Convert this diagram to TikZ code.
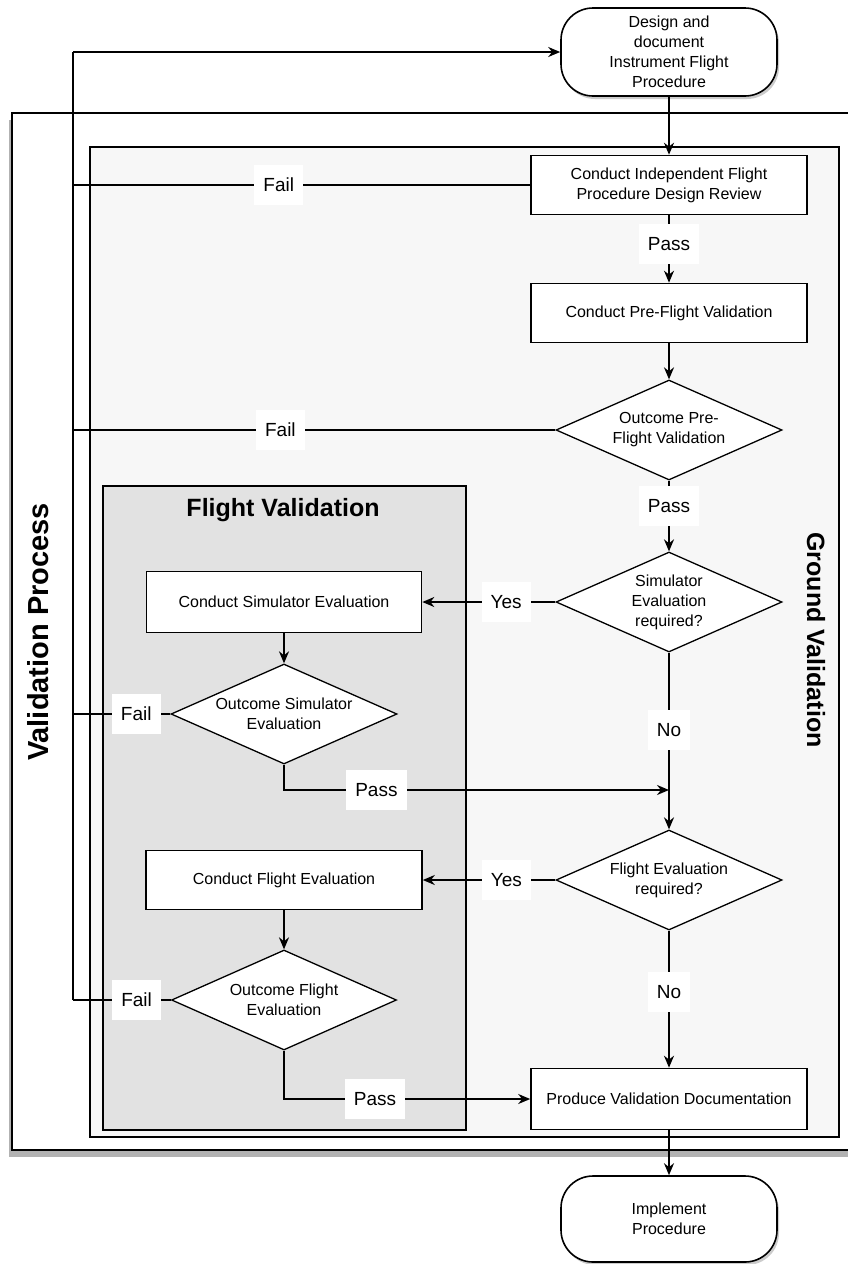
\documentclass[tikz,border=0pt]{standalone}
\usepackage{fontspec}
\setmainfont{Liberation Sans}
\usepackage{tikz}
\usetikzlibrary{positioning,shapes.geometric,arrows.meta,shadows}
\definecolor{groundgrey}{HTML}{F7F7F7}
\definecolor{flightgrey}{HTML}{E2E2E2}

\begin{document}
\begin{tikzpicture}[x=1pt, y=-1pt, >={Stealth[length=12pt,width=10pt]},
		every node/.style={font=\fontsize{16}{20}\selectfont},
		process/.style={draw, line width=1.6pt, fill=white, minimum width=276pt, minimum height=59pt, align=center, inner sep=2pt},
		decision/.style={diamond, aspect=2.26, draw, line width=1.3pt, fill=white, minimum width=226pt, minimum height=100pt, inner sep=0pt, align=center},
		terminal/.style={draw, line width=1.6pt, fill=white, rounded corners=32pt, minimum width=216pt, minimum height=88pt, align=center,
			drop shadow={shadow xshift=2pt, shadow yshift=-3pt, opacity=0.4}},
		answer/.style={fill=white, font=\fontsize{19}{22}\selectfont, inner xsep=9pt, minimum height=40pt},
		flow/.style={line width=1.9pt},
		boxtitle/.style={font=\bfseries\fontsize{25}{28}\selectfont}]
		
		\useasboundingbox (0,0) rectangle (847,1264);
		\fill[white] (0,0) rectangle (847,1264);
		
		% containers
		\draw[line width=2.8pt, fill=white, drop shadow={shadow xshift=-3pt, shadow yshift=-7pt, opacity=0.6}] (12,113) rectangle (852,1150);
		\draw[line width=1.5pt, fill=groundgrey] (90,147) rectangle (839,1137);
		\draw[line width=1.5pt, fill=flightgrey] (103,486) rectangle (466,1130);
		
		\node [boxtitle, font=\bfseries\fontsize{29}{32}\selectfont, rotate=90] (valtitle) at (38,632) {Validation Process};
		\node [boxtitle, rotate=-90] (groundtitle) at (816,640) {Ground Validation};
		\node [boxtitle] (flighttitle) at (283,510) {Flight Validation};
		
		% steps
		\node [terminal] (design) at (669,52) {Design and\\document\\Instrument Flight\\Procedure};
		\node [process] (review) at (669,185) {Conduct Independent Flight\\Procedure Design Review};
		\node [process] (preflight) at (669,313) {Conduct Pre-Flight Validation};
		\node [decision] (preout) at (669,430) {Outcome Pre-\\Flight Validation};
		\node [decision] (simreq) at (669,602) {Simulator\\Evaluation\\required?};
		\node [process, minimum width=275pt, minimum height=61pt] (simeval) at (284,602) {Conduct Simulator Evaluation};
		\node [decision] (simout) at (284,714) {Outcome Simulator\\Evaluation};
		\node [decision] (flightreq) at (669,880) {Flight Evaluation\\required?};
		\node [process] (flighteval) at (284,880) {Conduct Flight Evaluation};
		\node [decision, minimum width=225pt] (flightout) at (284,1000) {Outcome Flight\\Evaluation};
		\node [process, minimum height=61pt] (produce) at (669,1099) {Produce Validation Documentation};
		\node [terminal, minimum height=86pt] (implement) at (669,1219) {Implement\\Procedure};
		
		\coordinate (rettop) at (73,52);
		\coordinate (retbot) at (flightout.west -| rettop);
		\coordinate (simjoin) at (669,790);
		
		% main flow
		\draw [flow,->] (design) -- (review);
		\draw [flow,->] (review) -- node [answer, pos=0.42] {Pass} (preflight);
		\draw [flow,->] (preflight) -- (preout);
		\draw [flow,->] (preout) -- node [answer, pos=0.36] {Pass} (simreq);
		\draw [flow,->] (simreq) -- node [answer, pos=0.37] {Yes} (simeval);
		\draw [flow,->] (simeval) -- (simout);
		\draw [flow,->] (simout.south) |- node [answer, pos=0.62] {Pass} (simjoin);
		\draw [flow,->] (simreq) -- node [answer, pos=0.44] {No} (flightreq);
		\draw [flow,->] (flightreq) -- node [answer, pos=0.37] {Yes} (flighteval);
		\draw [flow,->] (flighteval) -- (flightout);
		\draw [flow,->] (flightout.south) |- node [answer, pos=0.685] {Pass} (produce.west);
		\draw [flow,->] (flightreq) -- node [answer, pos=0.45] {No} (produce);
		\draw [flow,->] (produce) -- (implement);
		
		% back to design
		\foreach \n/\p in {review/0.55, preout/0.57, simout/0.35, flightout/0.35}
		\draw [flow] (\n.west) -- node [answer, pos=\p] {Fail} (\n.west -| rettop);
		\draw [line width=1.3pt] (retbot) -- (rettop);
		\draw [flow,->] (rettop) -- (design.west);
		
\end{tikzpicture}
\end{document}
